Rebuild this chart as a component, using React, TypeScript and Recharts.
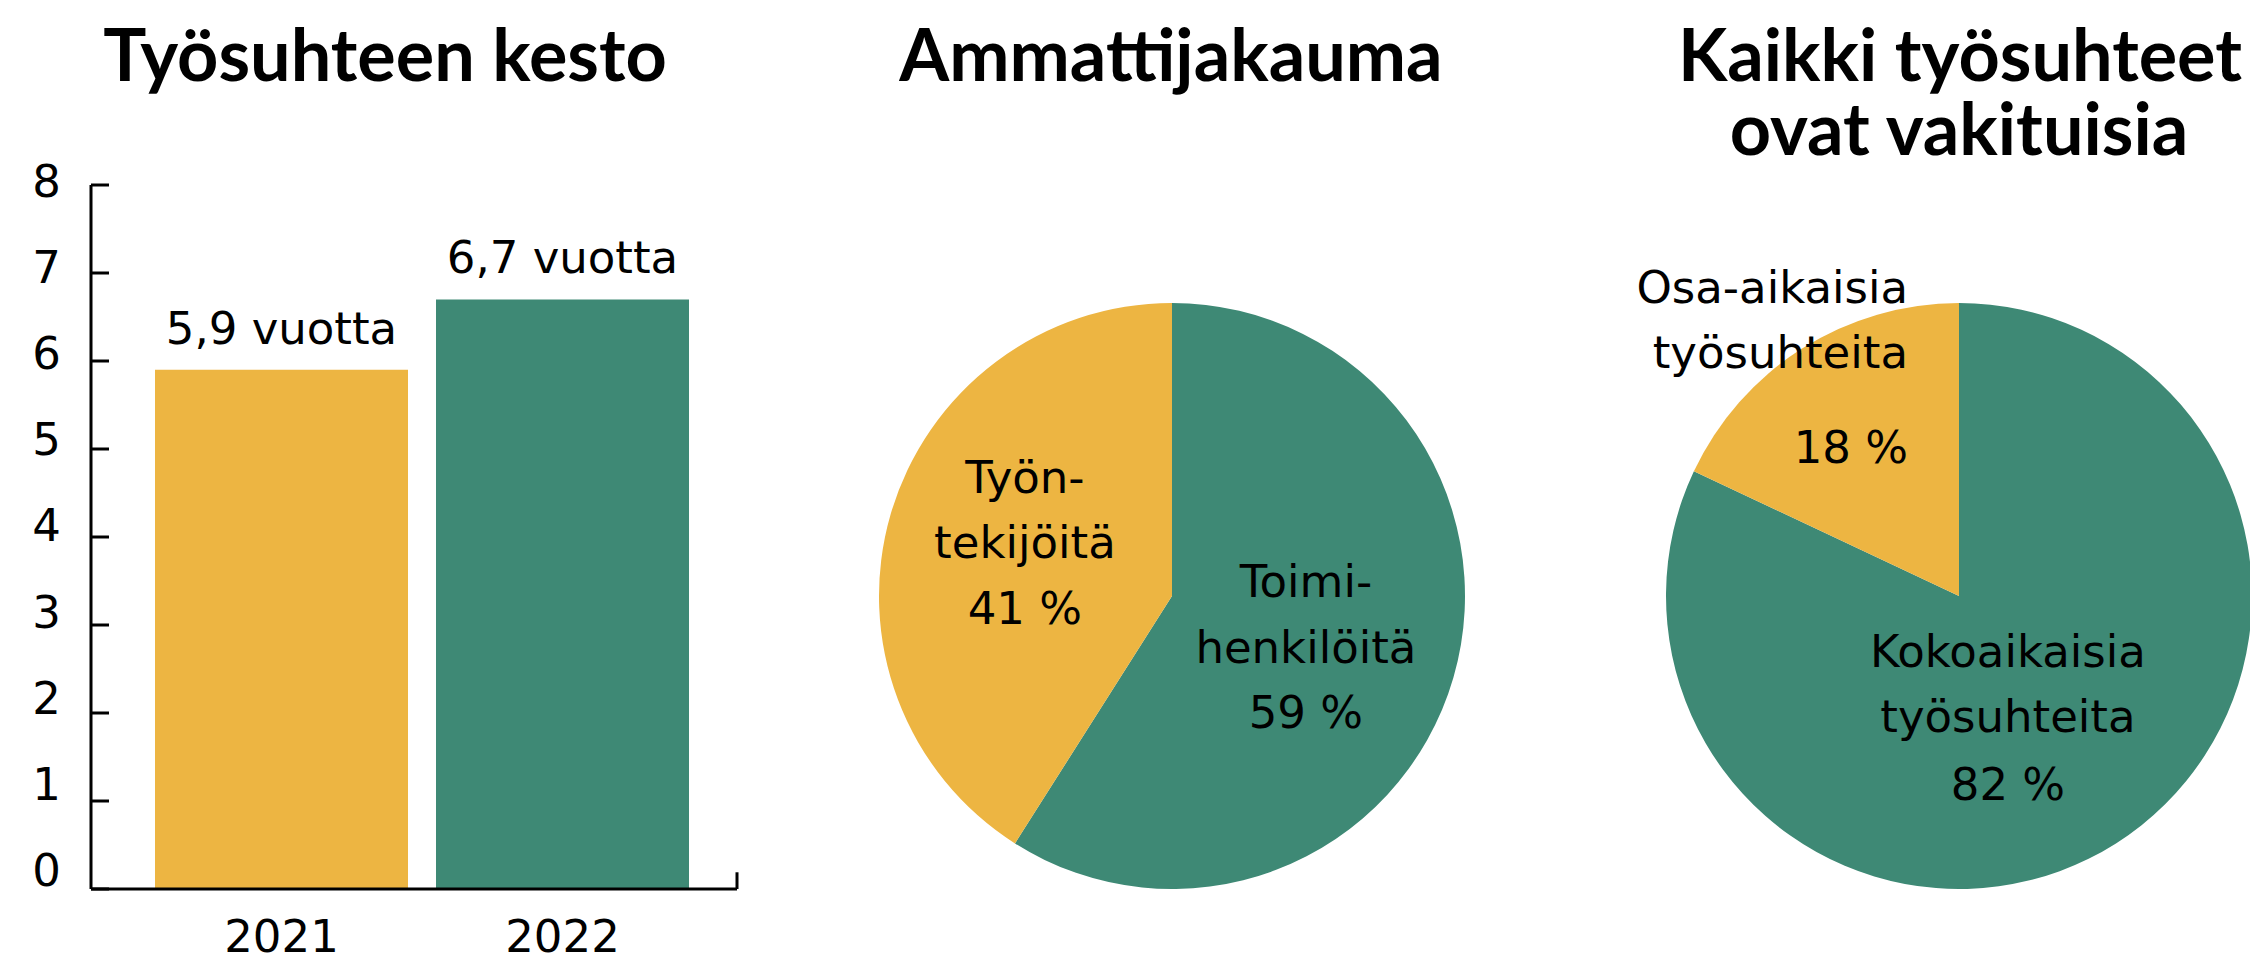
import React from 'react';
import {
  BarChart,
  Bar,
  XAxis,
  YAxis,
  Cell,
  LabelList,
  ReferenceLine,
  PieChart,
  Pie,
} from 'recharts';

// ---- Data ----
const years = ['2021', '2022'];
const durations = [5.9, 6.7];
const yTicks = [0, 1, 2, 3, 4, 5, 6, 7, 8];

const occupationNames = ['Toimi-\nhenkilöitä', 'Työn-\ntekijöitä'];
const occupationShares = [59, 41];

const contractNames = ['Kokoaikaisia\ntyösuhteita', 'Osa-aikaisia\ntyösuhteita'];
const contractShares = [82, 18];

const titles = ['Työsuhteen kesto', 'Ammattijakauma', 'Kaikki työsuhteet', 'ovat vakituisia'];

// ---- Styles ----
const YELLOW = '#EDB542';
const GREEN = '#3E8975';
const barColors = [YELLOW, GREEN];
const pieColors = [GREEN, YELLOW];
const BODY_FONT = '"DejaVu Sans", sans-serif';
const TITLE_FONT = 'Lato, "DejaVu Sans", sans-serif';
const FS = 45;

const barData = years.map((y, i) => ({ year: y, value: durations[i] }));
const occData = occupationNames.map((n, i) => ({ name: n, value: occupationShares[i] }));
const conData = contractNames.map((n, i) => ({ name: n, value: contractShares[i] }));

// label layout relative to pie centre, in units of outerRadius
const occLayout = [
  { dx: 0.457, dy: 0.003, anchor: 'middle', gaps: [0, 66, 131] },
  { dx: -0.502, dy: -0.352, anchor: 'middle', gaps: [0, 65, 131] },
];
const conLayout = [
  { dx: 0.167, dy: 0.242, anchor: 'middle', gaps: [0, 65, 133] },
  { dx: -0.174, dy: -1.0, anchor: 'end', gaps: [0, 65, 160] },
];

const makePieLabel = (layout: any[]) => (props: any) => {
  const { cx, cy, outerRadius, index } = props;
  const name = (props.payload && props.payload.name) || props.name;
  const value = (props.payload && props.payload.value) ?? props.value;
  const L = layout[index];
  const x = cx + L.dx * outerRadius;
  const y = cy + L.dy * outerRadius;
  const lines = [...String(name).split('\n'), `${value} %`];
  return (
    <text
      key={`lbl-${index}`}
      x={x}
      y={y}
      textAnchor={L.anchor}
      fontFamily={BODY_FONT}
      fontSize={FS}
      fill="#000"
    >
      {lines.map((t, i) => (
        <tspan key={i} x={x} y={y + L.gaps[i]}>
          {t}
        </tspan>
      ))}
    </text>
  );
};

const YTick = (props: any) => {
  const { x, y, payload } = props;
  // labels in the source sit on a slightly tighter spacing than the tick marks
  const drift = (8 - Number(payload.value)) * 1.9;
  return (
    <g>
      <line x1={x} x2={x + 18} y1={y} y2={y} stroke="#000" strokeWidth={3} />
      <text x={x - 30} y={y + 12 - drift} textAnchor="end" fontFamily={BODY_FONT} fontSize={FS} fill="#000">
        {payload.value}
      </text>
    </g>
  );
};

const fmt = (v: any) => `${String(v).replace('.', ',')} vuotta`;

export default function App() {
  return (
    <div style={{ position: 'absolute', left: 0, top: 0, width: 2250, height: 957, background: '#fff', overflow: 'hidden' }}>
      {/* Bar chart */}
      <div style={{ position: 'absolute', left: 0, top: 0 }}>
        <BarChart
          width={760}
          height={957}
          data={barData}
          margin={{ top: 185, right: 23, left: 0, bottom: 0 }}
          barCategoryGap={14}
        >
          <XAxis
            dataKey="year"
            height={68}
            padding={{ left: 50, right: 34 }}
            axisLine={{ stroke: '#000', strokeWidth: 3 }}
            tickLine={false}
            tickSize={0}
            tickMargin={31}
            tick={{ fontFamily: BODY_FONT, fontSize: FS, fill: '#000' }}
            interval={0}
          />
          <XAxis xAxisId="edge" type="number" domain={[0, 1]} hide />
          <YAxis
            width={91}
            domain={[0, 8]}
            ticks={yTicks}
            interval={0}
            axisLine={{ stroke: '#000', strokeWidth: 3 }}
            tickLine={false}
            tickSize={0}
            tickMargin={0}
            tick={<YTick />}
          />
          <ReferenceLine
            xAxisId="edge"
            segment={[
              { x: 1, y: 0 },
              { x: 1, y: 0.19 },
            ]}
            stroke="#000"
            strokeWidth={3}
          />
          <Bar dataKey="value" isAnimationActive={false}>
            {barData.map((d, i) => (
              <Cell key={d.year} fill={barColors[i]} />
            ))}
            <LabelList
              dataKey="value"
              position="top"
              offset={26}
              formatter={fmt}
              fontFamily={BODY_FONT}
              fontSize={FS}
              fill="#000"
            />
          </Bar>
        </BarChart>
      </div>

      {/* Pie 1 */}
      <div style={{ position: 'absolute', left: 760, top: 0 }}>
        <PieChart width={820} height={957} margin={{ top: 0, right: 0, bottom: 0, left: 0 }}>
          <Pie
            data={occData}
            dataKey="value"
            nameKey="name"
            cx={412}
            cy={596}
            outerRadius={293}
            startAngle={90}
            endAngle={-270}
            stroke="none"
            labelLine={false}
            label={makePieLabel(occLayout)}
            isAnimationActive={false}
          >
            {occData.map((d, i) => (
              <Cell key={i} fill={pieColors[i]} />
            ))}
          </Pie>
        </PieChart>
      </div>

      {/* Pie 2 */}
      <div style={{ position: 'absolute', left: 1580, top: 0 }}>
        <PieChart width={670} height={957} margin={{ top: 0, right: 0, bottom: 0, left: 0 }}>
          <Pie
            data={conData}
            dataKey="value"
            nameKey="name"
            cx={379}
            cy={596}
            outerRadius={293}
            startAngle={90}
            endAngle={-270}
            stroke="none"
            labelLine={false}
            label={makePieLabel(conLayout)}
            isAnimationActive={false}
          >
            {conData.map((d, i) => (
              <Cell key={i} fill={pieColors[i]} />
            ))}
          </Pie>
        </PieChart>
      </div>

      {/* Titles */}
      <svg width={2250} height={957} style={{ position: 'absolute', left: 0, top: 0, pointerEvents: 'none' }}>
        <g fontFamily={TITLE_FONT} fontWeight={700} fontSize={72} fill="#000" textAnchor="middle">
          <text x={385} y={81}>{titles[0]}</text>
          <text x={1171} y={81}>{titles[1]}</text>
          <text x={1960} y={81}>{titles[2]}</text>
          <text x={1959} y={155}>{titles[3]}</text>
        </g>
      </svg>
    </div>
  );
}
